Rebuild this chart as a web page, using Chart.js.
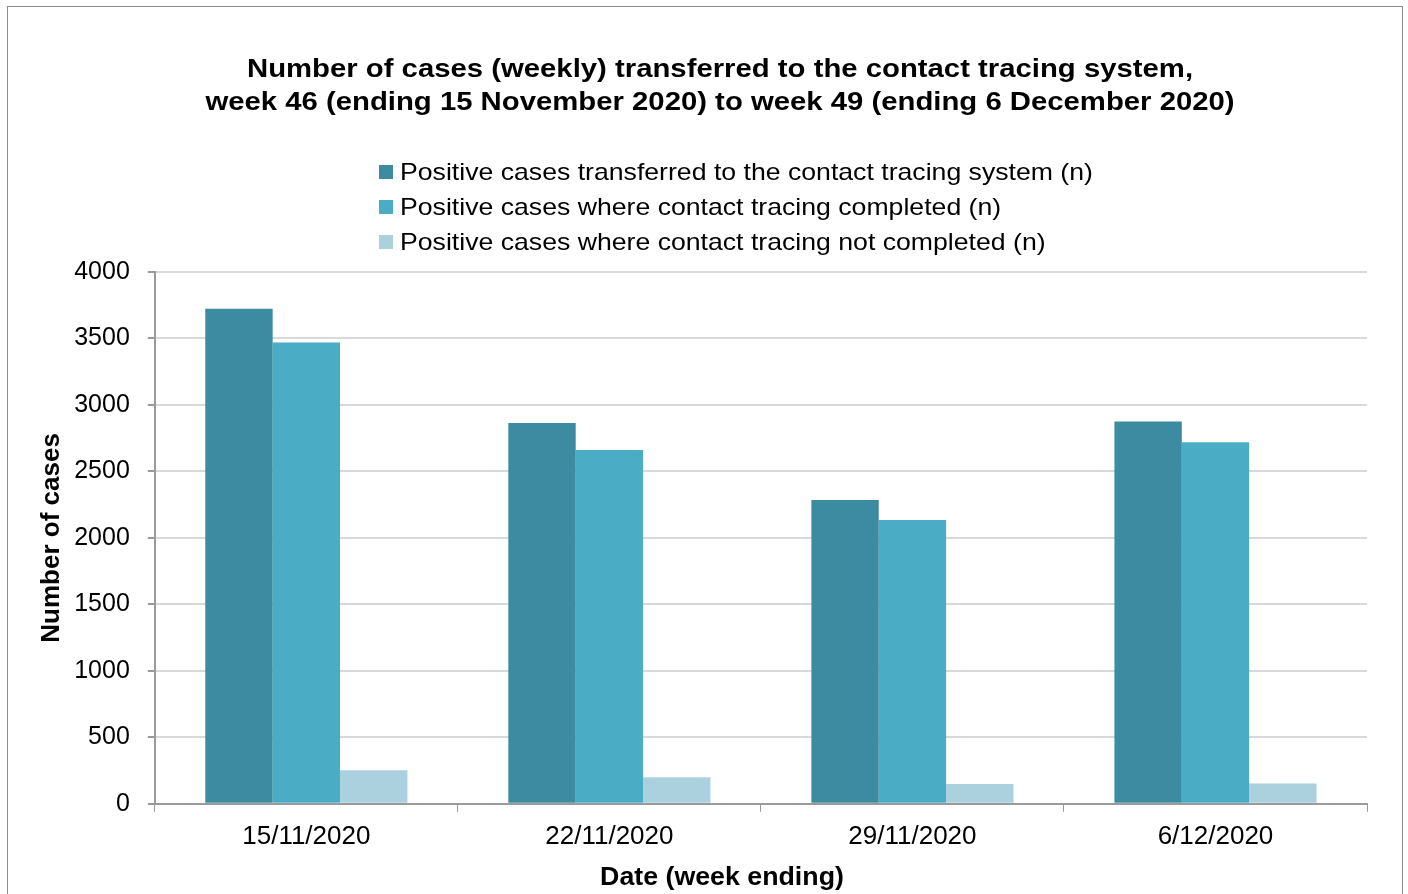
<!DOCTYPE html>
<html>
<head>
<meta charset="utf-8">
<script src="https://cdn.jsdelivr.net/npm/chart.js@4/dist/chart.umd.min.js"></script>
<style>
  html, body { margin: 0; padding: 0; background: #fff; }
  #wrap { position: relative; width: 1408px; height: 894px; }
</style>
</head>
<body>
<div id="wrap"><canvas id="casesChart"></canvas></div>
<script>
// week ending dates
const weeks = ['15/11/2020', '22/11/2020', '29/11/2020', '6/12/2020']

// values
const transferred = [3723, 2864, 2285, 2875]
const completed = [3470, 2662, 2135, 2719]
const notCompleted = [252, 200, 148, 152]

const yTicks = [0, 500, 1000, 1500, 2000, 2500, 3000, 3500, 4000]

const titleLines = [
    'Number of cases (weekly) transferred to the contact tracing system,',
    'week 46 (ending 15 November 2020) to week 49 (ending 6 December 2020)'
]
const xTitle = 'Date (week ending)'
const yTitle = 'Number of cases'

const fontFamily = '"Liberation Sans", Arial, sans-serif'

// the original text is a bit wider than Arial, so stretch it sideways
const drawWide = function (ctx, text, x, y, sx) {
    ctx.save()
    ctx.translate(x, y)
    ctx.scale(sx, 1)
    ctx.fillText(text, 0, 0)
    ctx.restore()
}

// title, legend, x title and outer border are drawn here
const headerPlugin = {
    id: 'header',
    afterDraw(chart) {
        const ctx = chart.ctx
        ctx.save()

        ctx.strokeStyle = '#8c8c8c'
        ctx.lineWidth = 1
        ctx.strokeRect(7.5, 6.5, 1395, 1000)

        ctx.fillStyle = '#000'
        ctx.textAlign = 'center'
        ctx.textBaseline = 'middle'
        ctx.font = 'bold 25px ' + fontFamily
        drawWide(ctx, titleLines[0], 720, 70, 1.172)
        drawWide(ctx, titleLines[1], 720, 103, 1.172)

        drawWide(ctx, xTitle, 722, 878, 1.07)

        ctx.textAlign = 'left'
        ctx.font = '24px ' + fontFamily
        chart.data.datasets.forEach((ds, i) => {
            const y = 172 + i * 35
            ctx.fillStyle = ds.backgroundColor
            ctx.fillRect(379, y - 7, 14, 14)
            ctx.fillStyle = '#000'
            drawWide(ctx, ds.label, 400, y + 1, 1.11)
        })
        ctx.restore()
    }
}

var data = {
    labels: weeks,
    datasets: [{
        label: 'Positive cases transferred to the contact tracing system (n)',
        data: transferred,
        backgroundColor: '#3c8ba1'
    }, {
        label: 'Positive cases where contact tracing completed (n)',
        data: completed,
        backgroundColor: '#4bacc6'
    }, {
        label: 'Positive cases where contact tracing not completed (n)',
        data: notCompleted,
        backgroundColor: '#abd0de'
    }]
}

var config = {
    type: 'bar',
    data: data,
    options: {
        responsive: true,
        maintainAspectRatio: false,
        animation: false,
        datasets: {
            bar: {
                categoryPercentage: 0.667,
                barPercentage: 1.0
            }
        },
        layout: {
            padding: { top: 272, left: 36, right: 41, bottom: 33 }
        },
        plugins: {
            legend: { display: false },
            title: { display: false },
            tooltip: { enabled: false }
        },
        scales: {
            x: {
                grid: {
                    offset: true,
                    drawOnChartArea: false,
                    color: '#9a9a9a',
                    tickColor: '#9a9a9a',
                    tickLength: 8
                },
                border: { color: '#9a9a9a', width: 2 },
                ticks: {
                    color: '#000',
                    padding: 9,
                    font: { family: fontFamily, size: 26 }
                }
            },
            y: {
                min: 0,
                max: 4000,
                afterBuildTicks: (axis) => {
                    axis.ticks = yTicks.map(v => ({ value: v }))
                },
                grid: {
                    color: '#d9d9d9',
                    lineWidth: 2,
                    tickColor: '#9a9a9a',
                    tickLength: 7
                },
                border: { color: '#9a9a9a', width: 2 },
                ticks: {
                    color: '#000',
                    padding: 18,
                    font: { family: fontFamily, size: 25 },
                    callback: (value) => String(value)
                },
                title: {
                    display: true,
                    text: yTitle,
                    color: '#000',
                    padding: { top: 0, bottom: -11 },
                    font: { family: fontFamily, size: 26, weight: 'bold' }
                }
            }
        }
    },
    plugins: [headerPlugin]
}

var casesChart = new Chart(
    document.getElementById('casesChart'),
    config
)
</script>
</body>
</html>
